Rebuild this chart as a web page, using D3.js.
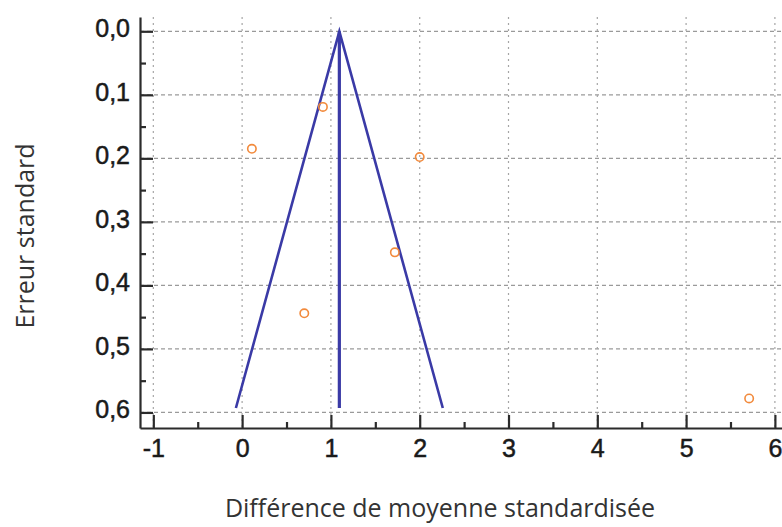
<!DOCTYPE html>
<html>
<head>
<meta charset="utf-8">
<script src="https://cdn.jsdelivr.net/npm/d3@7"></script>
<style>
  body { margin: 0; background: #fff; }
  svg { display: block; }
</style>
</head>
<body>
<svg width="782" height="527"></svg>
<script>
// studies: standardised mean difference and its standard error
var smd = [0.91, 0.11, 2.0, 1.72, 0.7, 5.71];
var stdErr = [0.119, 0.185, 0.198, 0.348, 0.444, 0.578];

// funnel (pooled estimate and 95% limits)
var funnelX = [-0.07, 1.095, 2.26];
var funnelSE = [0.593, 0, 0.593];
var pooled = [1.095, 1.095];
var pooledSE = [0, 0.593];

var xTicks = [-1, 0, 1, 2, 3, 4, 5, 6];
var xMinor = [-0.5, 0.5, 1.5, 2.5, 3.5, 4.5, 5.5];
var yTicks = [0, 0.1, 0.2, 0.3, 0.4, 0.5, 0.6];
var yMinor = [0.05, 0.15, 0.25, 0.35, 0.45, 0.55];

var svg = d3.select("svg");
var width = +svg.attr("width");
var height = +svg.attr("height");

var x = d3.scaleLinear().domain([-1.15, 6.08]).range([140, 782]);
var y = d3.scaleLinear().domain([-0.0225, 0.6245]).range([17, 428]);

var fmtY = (d) => d3.format(".1f")(d).replace(".", ",");
var fmtX = (d) => String(d); // plain hyphen for negatives

// grid
svg.append("g")
  .selectAll("line")
  .data(yTicks)
  .enter()
  .append("line")
  .attr("x1", 140)
  .attr("x2", width)
  .attr("y1", (d) => y(d))
  .attr("y2", (d) => y(d))
  .attr("stroke", "#9a9a9a")
  .attr("stroke-width", 1.2)
  .attr("stroke-dasharray", "4,3");

svg.append("g")
  .selectAll("line")
  .data(xTicks)
  .enter()
  .append("line")
  .attr("x1", (d) => x(d))
  .attr("x2", (d) => x(d))
  .attr("y1", 17)
  .attr("y2", 428)
  .attr("stroke", "#a5a5a5")
  .attr("stroke-width", 1.2)
  .attr("stroke-dasharray", "2,4");

// axes, ticks pointing inward
var yAxis = svg.append("g")
  .attr("transform", "translate(140,0)")
  .call(d3.axisLeft(y).tickValues(yTicks).tickFormat(fmtY).tickSize(-13).tickSizeOuter(0).tickPadding(10));
svg.append("g")
  .attr("transform", "translate(140,0)")
  .call(d3.axisLeft(y).tickValues(yMinor).tickFormat("").tickSize(-6).tickSizeOuter(0))
  .select(".domain").remove();

var xAxis = svg.append("g")
  .attr("transform", "translate(0,428)")
  .call(d3.axisBottom(x).tickValues(xTicks).tickFormat(fmtX).tickSize(-13).tickSizeOuter(0).tickPadding(11));
svg.append("g")
  .attr("transform", "translate(0,428)")
  .call(d3.axisBottom(x).tickValues(xMinor).tickFormat("").tickSize(-6).tickSizeOuter(0))
  .select(".domain").remove();

svg.selectAll(".domain, .tick line")
  .attr("stroke", "#2b2b2b")
  .attr("stroke-width", 2.2);

svg.selectAll(".tick text")
  .attr("font-family", "'Liberation Sans', Arial, sans-serif")
  .attr("font-size", 25)
  .attr("fill", "#1a1a1a")
  .attr("stroke", "#1a1a1a")
  .attr("stroke-width", 0.5);
yAxis.selectAll(".tick text").attr("dy", "0.22em");

// funnel
var line = d3.line()
  .x((d) => x(d[0]))
  .y((d) => y(d[1]));

svg.append("path")
  .datum(d3.zip(funnelX, funnelSE))
  .attr("d", line)
  .attr("fill", "none")
  .attr("stroke", "#3a3aa6")
  .attr("stroke-width", 2.6)
  .attr("stroke-linejoin", "miter");

svg.append("path")
  .datum(d3.zip(pooled, pooledSE))
  .attr("d", line)
  .attr("fill", "none")
  .attr("stroke", "#3a3aa6")
  .attr("stroke-width", 3.2);

// studies
svg.append("g")
  .selectAll("circle")
  .data(d3.zip(smd, stdErr))
  .enter()
  .append("circle")
  .attr("cx", (d) => x(d[0]))
  .attr("cy", (d) => y(d[1]))
  .attr("r", 4.2)
  .attr("fill", "none")
  .attr("stroke", "#f28a3c")
  .attr("stroke-width", 1.6);

// titles
svg.append("text")
  .attr("transform", "translate(34,236) rotate(-90)")
  .attr("text-anchor", "middle")
  .attr("font-family", "'Open Sans', sans-serif")
  .attr("font-size", 25)
  .attr("fill", "#333")
  .text("Erreur standard");

svg.append("text")
  .attr("x", 440)
  .attr("y", 517)
  .attr("text-anchor", "middle")
  .attr("font-family", "'Open Sans', sans-serif")
  .attr("font-size", 25)
  .attr("fill", "#333")
  .text("Différence de moyenne standardisée");
</script>
</body>
</html>
